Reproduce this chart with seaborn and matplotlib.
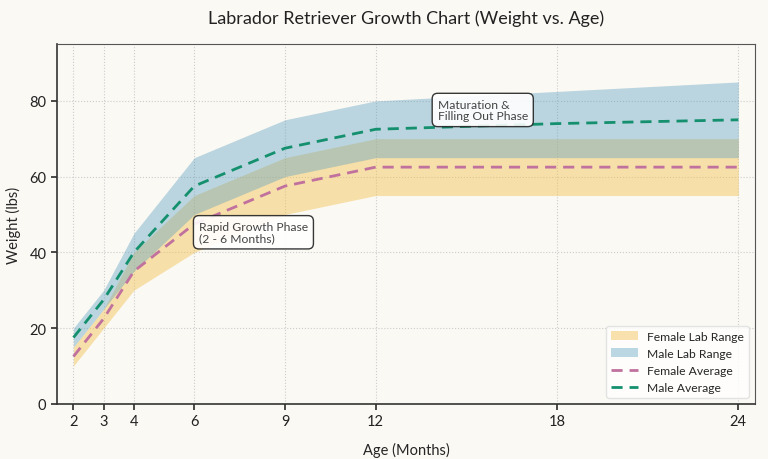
import numpy as np
import pandas as pd
import seaborn as sns
import matplotlib.pyplot as plt

# growth data (lbs) by age in months
age = [2, 3, 4, 6, 9, 12, 18, 24]
female_low = [10, 20, 30, 40, 50, 55, 55, 55]
female_high = [15, 25, 40, 55, 65, 70, 70, 70]
female_avg = [12.5, 22.5, 35, 47.5, 57.5, 62.5, 62.5, 62.5]
male_low = [15, 25, 35, 50, 60, 65, 65, 65]
male_high = [20, 30, 45, 65, 75, 80, 82.5, 85]
male_avg = [17.5, 27.5, 40, 57.5, 67.5, 72.5, 74, 75]

bg = "#fbf9f4"
sns.set_theme(style="whitegrid")
plt.rcParams['font.family'] = ['Lato', 'DejaVu Sans']

df = pd.DataFrame({
    "age": age * 2,
    "weight": female_avg + male_avg,
    "group": ["Female Average"] * len(age) + ["Male Average"] * len(age),
})

fig, ax = plt.subplots(figsize=(7.68, 4.6), dpi=100)
fig.patch.set_facecolor(bg)
ax.set_facecolor(bg)

ax.fill_between(age, female_low, female_high, color="#f2c14e", alpha=0.45,
                linewidth=0, label="Female Lab Range")
ax.fill_between(age, male_low, male_high, color="#5a9fc0", alpha=0.4,
                linewidth=0, label="Male Lab Range")
sns.lineplot(data=df, x="age", y="weight", hue="group",
             palette={"Female Average": "#c0719e", "Male Average": "#14906e"},
             linestyle="--", linewidth=2, ax=ax)
for l in ax.get_lines():
    l.set_dashes((4, 2.5))

box = dict(boxstyle="round,pad=0.45", facecolor="white", edgecolor="#222222",
           linewidth=1, alpha=0.9)
ax.text(6.15, 45.3, "Rapid Growth Phase\n(2 - 6 Months)", fontsize=8.7,
        va="center", ha="left", color="#444444", bbox=box, linespacing=1.05)
ax.text(14.05, 77.6, "Maturation &\nFilling Out Phase", fontsize=8.7,
        va="center", ha="left", color="#444444", bbox=box, linespacing=1.05)

ax.set_xlim(1.45, 24.55)
ax.set_ylim(0, 95)
ax.set_xticks(age)
ax.set_yticks([0, 20, 40, 60, 80])
ax.grid(True, linestyle=":", color="#cccccc", linewidth=0.8)
for s in ["left", "bottom"]:
    ax.spines[s].set_color("#333333")
    ax.spines[s].set_linewidth(1.2)
for s in ["top", "right"]:
    ax.spines[s].set_color("#555555")
    ax.spines[s].set_linewidth(0.8)
ax.tick_params(axis="both", labelsize=10.5, length=4, color="#333333",
               left=True, bottom=True, colors="#222222")

ax.set_title("Labrador Retriever Growth Chart (Weight vs. Age)", fontsize=13,
             pad=15, color="#222222")
ax.set_xlabel("Age (Months)", fontsize=10.5, labelpad=10)
ax.set_ylabel("Weight (lbs)", fontsize=10.5, labelpad=6)

handles, labels = ax.get_legend_handles_labels()
order = [labels.index(n) for n in
         ["Female Lab Range", "Male Lab Range", "Female Average", "Male Average"]]
ax.legend([handles[i] for i in order], [labels[i] for i in order],
          loc="lower right", fontsize=8.7, frameon=True, facecolor="white",
          edgecolor="#dddddd", handlelength=2.2)

fig.subplots_adjust(left=0.074, right=0.983, top=0.902, bottom=0.12)
fig.savefig("out.png", dpi=100, facecolor=bg)
